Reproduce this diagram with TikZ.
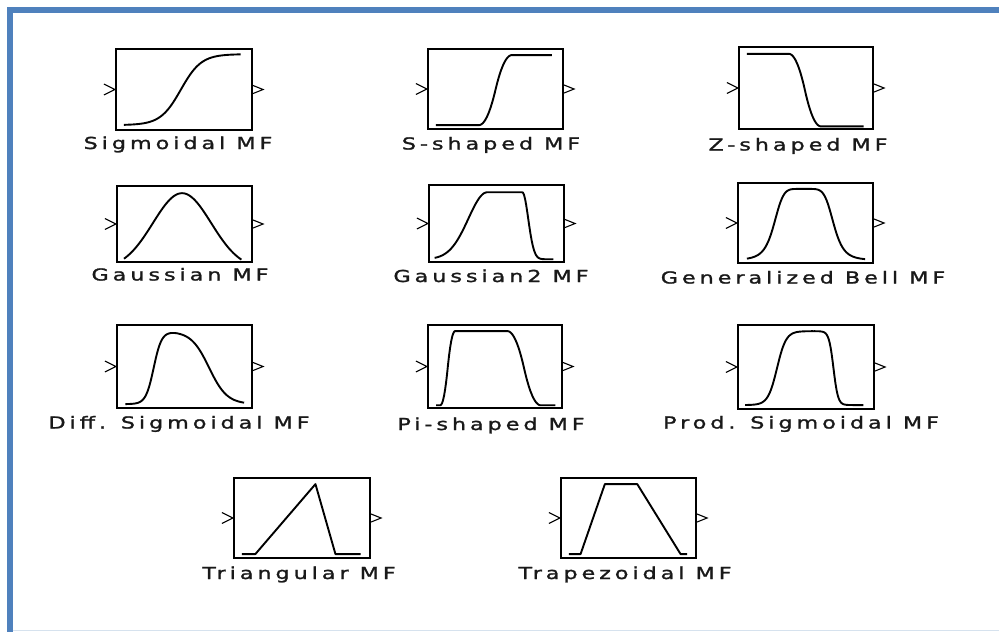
\documentclass[tikz,border=0pt]{standalone}
\usepackage{fontspec}
\newfontfamily\mffont[FakeStretch=1.35,LetterSpace=24,FakeBold=1.5]{DejaVu Sans}
\definecolor{frameblue}{RGB}{79,129,189}
\definecolor{framelight}{RGB}{214,226,238}

\begin{document}
\begin{tikzpicture}[
        x=1pt, y=-1pt, % 以像素为单位，y 轴向下
        % 隶属函数方块
        mfbox/.style={draw, line width=2.2pt, inner sep=0pt},
        % 方块内的曲线
        mfcurve/.style={line width=1.9pt, line join=round},
        % 输入输出端口
        port/.style={line width=1.1pt},
        % 方块下面的名称
        mflabel/.style={anchor=base, inner sep=0pt, text=black!90,
            font=\mffont\fontsize{16.5}{19}\selectfont},
        declare function={
            sig(\t)=1/(1+exp(-max(-9,min(9,\t))));
            gs(\t)=exp(-min(9,\t*\t/2));
            bell(\t)=1/(1+\t*\t*\t*\t*\t*\t);
            clampu(\t)=max(0,min(1,\t));
            sspl(\t)=ifthenelse(\t<0.5,2*\t*\t,1-2*(1-\t)*(1-\t));
            smf(\x,\a,\b)=sspl(clampu((\x-\a)/(\b-\a)));
        }
    ]
    \useasboundingbox (0,0) rectangle (999,632);
    \fill[white] (0,0) rectangle (999,632);

    % --- 蓝色边框 ---
    \fill[frameblue] (7,7) rectangle (999,12.5);
    \fill[frameblue] (7,7) rectangle (12.5,632);
    \draw[framelight, line width=1pt] (12.5,630.5) -- (999,630.5);

    % --- 方块 ---
    \node[mfbox, minimum width=136pt, minimum height=81pt] (sigm)   at (184,89.5) {};
    \node[mfbox, minimum width=135pt, minimum height=80pt] (smf)    at (495.5,89) {};
    \node[mfbox, minimum width=134pt, minimum height=82pt] (zmf)    at (806,88) {};
    \node[mfbox, minimum width=135pt, minimum height=76pt] (gauss)  at (184.5,224) {};
    \node[mfbox, minimum width=135pt, minimum height=77pt] (gauss2) at (496.5,223.5) {};
    \node[mfbox, minimum width=135pt, minimum height=80pt] (gbell)  at (805.5,223) {};
    \node[mfbox, minimum width=135pt, minimum height=83pt] (dsig)   at (184.5,366.5) {};
    \node[mfbox, minimum width=134pt, minimum height=83pt] (pimf)   at (495,366.5) {};
    \node[mfbox, minimum width=136pt, minimum height=84pt] (psig)   at (806,367) {};
    \node[mfbox, minimum width=136pt, minimum height=80pt] (trimf)  at (302,518) {};
    \node[mfbox, minimum width=135pt, minimum height=80pt] (trapmf) at (628.5,518) {};

    % --- 端口：左边输入，右边输出 ---
    \foreach \n in {sigm,smf,zmf,gauss,gauss2,gbell,dsig,pimf,psig,trimf,trapmf} {
        \draw[port] ([xshift=-11pt,yshift=5.5pt]\n.west) -- (\n.west)
            -- ([xshift=-11pt,yshift=-5.5pt]\n.west);
        \draw[port] ([yshift=4pt]\n.east) -- ([xshift=10pt]\n.east)
            -- ([yshift=-4pt]\n.east);
    }

    % --- 曲线（局部坐标：方块左下角为原点，宽高为 1） ---
    \begin{scope}[shift={(sigm.south west)}, x={(136pt,0pt)}, y={(0pt,81pt)}]
        \draw[mfcurve] plot[domain=0.066:0.926, samples=70]
            (\x, {0.074+0.876*sig(13.3*(\x-0.485))});
    \end{scope}
    \begin{scope}[shift={(smf.south west)}, x={(135pt,0pt)}, y={(0pt,80pt)}]
        \draw[mfcurve] plot[domain=0.067:0.926, samples=90]
            (\x, {0.062+0.876*smf(\x,0.385,0.63)});
    \end{scope}
    \begin{scope}[shift={(zmf.south west)}, x={(134pt,0pt)}, y={(0pt,82pt)}]
        \draw[mfcurve] plot[domain=0.067:0.94, samples=90]
            (\x, {0.045+0.885*(1-smf(\x,0.38,0.62))});
    \end{scope}
    \begin{scope}[shift={(gauss.south west)}, x={(135pt,0pt)}, y={(0pt,76pt)}]
        \draw[mfcurve] plot[domain=0.06:0.93, samples=70]
            (\x, {-0.08+gs((\x-0.49)/0.216)});
    \end{scope}
    \begin{scope}[shift={(gauss2.south west)}, x={(135pt,0pt)}, y={(0pt,77pt)}]
        \draw[mfcurve] plot[domain=0.05:0.93, samples=110]
            (\x, {0.05+0.87*gs(min(0,\x-0.44)/0.14)*gs(max(0,\x-0.70)/0.043)});
    \end{scope}
    \begin{scope}[shift={(gbell.south west)}, x={(135pt,0pt)}, y={(0pt,80pt)}]
        \draw[mfcurve] plot[domain=0.074:0.95, samples=90]
            (\x, {0.05+0.89*bell((\x-0.496)/0.222)});
    \end{scope}
    \begin{scope}[shift={(dsig.south west)}, x={(135pt,0pt)}, y={(0pt,83pt)}]
        \draw[mfcurve] plot[domain=0.07:0.95, samples=110]
            (\x, {0.06+0.88*(sig(34*(\x-0.28))-sig(15*(\x-0.69)))});
    \end{scope}
    \begin{scope}[shift={(pimf.south west)}, x={(134pt,0pt)}, y={(0pt,83pt)}]
        \draw[mfcurve] plot[domain=0.068:0.96, samples=120]
            (\x, {0.046+0.894*smf(\x,0.10,0.21)*(1-smf(\x,0.60,0.85))});
    \end{scope}
    \begin{scope}[shift={(psig.south west)}, x={(136pt,0pt)}, y={(0pt,84pt)}]
        \draw[mfcurve] plot[domain=0.06:0.93, samples=120]
            (\x, {0.06+0.88*sig(30*(\x-0.295))*sig(-60*(\x-0.71))});
    \end{scope}
    \begin{scope}[shift={(trimf.south west)}, x={(136pt,0pt)}, y={(0pt,80pt)}]
        \draw[mfcurve] (0.066,0.0625) -- (0.165,0.0625) -- (0.607,0.9375)
            -- (0.754,0.0625) -- (0.939,0.0625);
    \end{scope}
    \begin{scope}[shift={(trapmf.south west)}, x={(135pt,0pt)}, y={(0pt,80pt)}]
        \draw[mfcurve] (0.067,0.0625) -- (0.153,0.0625) -- (0.333,0.9375)
            -- (0.573,0.9375) -- (0.894,0.0625) -- (0.943,0.0625);
    \end{scope}

    % --- 名称 ---
    \node[mflabel] (sigm-lbl)   at (178,149)   {Sigmoidal MF};
    \node[mflabel] (smf-lbl)    at (491,149.5) {S-shaped MF};
    \node[mflabel] (zmf-lbl)    at (798,150.5) {Z-shaped MF};
    \node[mflabel] (gauss-lbl)  at (180,280.5) {Gaussian MF};
    \node[mflabel] (gauss2-lbl) at (491,282)   {Gaussian2 MF};
    \node[mflabel] (gbell-lbl)  at (803,283.5) {Generalized Bell MF};
    \node[mflabel] (dsig-lbl)   at (179,428.5) {Diff. Sigmoidal MF};
    \node[mflabel] (pimf-lbl)   at (491,430)   {Pi-shaped MF};
    \node[mflabel] (psig-lbl)   at (801,428.5) {Prod. Sigmoidal MF};
    \node[mflabel] (trimf-lbl)  at (299,579)   {Triangular MF};
    \node[mflabel] (trapmf-lbl) at (625,579)   {Trapezoidal MF};

\end{tikzpicture}
\end{document}
